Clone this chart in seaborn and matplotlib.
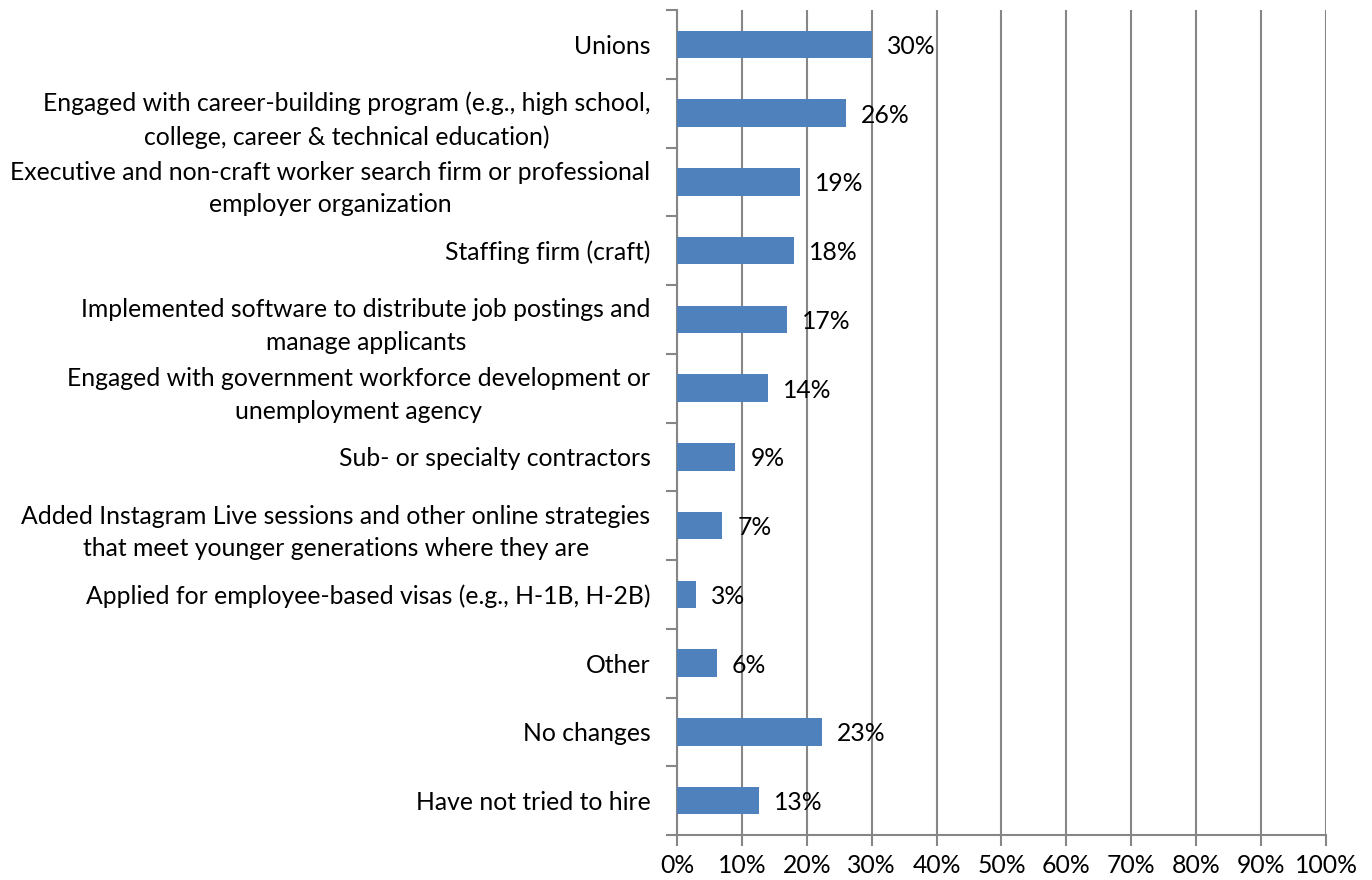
import numpy as np
import pandas as pd
import matplotlib
matplotlib.use("Agg")
import matplotlib.pyplot as plt
import seaborn as sns
from matplotlib.ticker import FixedLocator, PercentFormatter

categories = [
    "Unions",
    "Engaged with career-building program (e.g., high school,\ncollege, career & technical education)",
    "Executive and non-craft worker search firm or professional\nemployer organization",
    "Staffing firm (craft)",
    "Implemented software to distribute job postings and\nmanage applicants",
    "Engaged with government workforce development or\nunemployment agency",
    "Sub- or specialty contractors",
    "Added Instagram Live sessions and other online strategies\nthat meet younger generations where they are",
    "Applied for employee-based visas (e.g., H-1B, H-2B)",
    "Other",
    "No changes",
    "Have not tried to hire",
]
values = [30, 26, 19, 18, 17, 14, 9, 7, 3, 6.2, 22.4, 12.7]
value_labels = ["30%", "26%", "19%", "18%", "17%", "14%", "9%", "7%", "3%", "6%", "23%", "13%"]

df = pd.DataFrame({"category": categories, "value": values, "label": value_labels})

sns.set_theme(style="white")
plt.rcParams['font.family'] = ['Lato', 'DejaVu Sans']

fig = plt.figure(figsize=(13.72, 8.8), dpi=100)
ax = fig.add_axes([0.4934, 0.0511, 0.4731, 0.9375])

bar_color = "#4F81BD"
grid_color = "#868686"
fsize = 17.8

sns.barplot(data=df, x="value", y="category", orient="h", color=bar_color,
            width=0.4, saturation=1, linewidth=0, ax=ax, zorder=3)

ax.set_xlim(0, 100)
ax.set_ylim(len(categories) - 0.5, -0.5)
ax.set_xticks(np.arange(0, 101, 10))
ax.xaxis.set_major_formatter(PercentFormatter(decimals=0))
ax.grid(axis="x", color=grid_color, linewidth=1.5, zorder=0)
ax.set_axisbelow(True)
ax.set_xlabel("")
ax.set_ylabel("")

# value labels
for i, row in df.iterrows():
    ax.text(row["value"] + 2.3, i + 0.03, row["label"], va="center", ha="left",
            fontsize=fsize, color="black", zorder=4)

# y tick labels: centred multi-line text, ticks at category boundaries
ax.set_yticks(range(len(categories)))
ax.set_yticklabels(categories, fontsize=fsize, color="black",
                   multialignment="center", linespacing=1.5)
ax.tick_params(axis="y", which="major", length=0, pad=19)
ax.yaxis.set_minor_locator(FixedLocator(np.arange(-0.5, len(categories), 1)))
ax.tick_params(axis="y", which="minor", length=8, width=1.5, color=grid_color, left=True)

ax.tick_params(axis="x", which="major", length=8, width=1.5, color=grid_color,
               labelsize=fsize, labelcolor="black", pad=6, bottom=True)

for side in ["top", "right"]:
    ax.spines[side].set_visible(False)
for side in ["left", "bottom"]:
    ax.spines[side].set_color(grid_color)
    ax.spines[side].set_linewidth(1.5)

fig.savefig("out.png", dpi=100)
